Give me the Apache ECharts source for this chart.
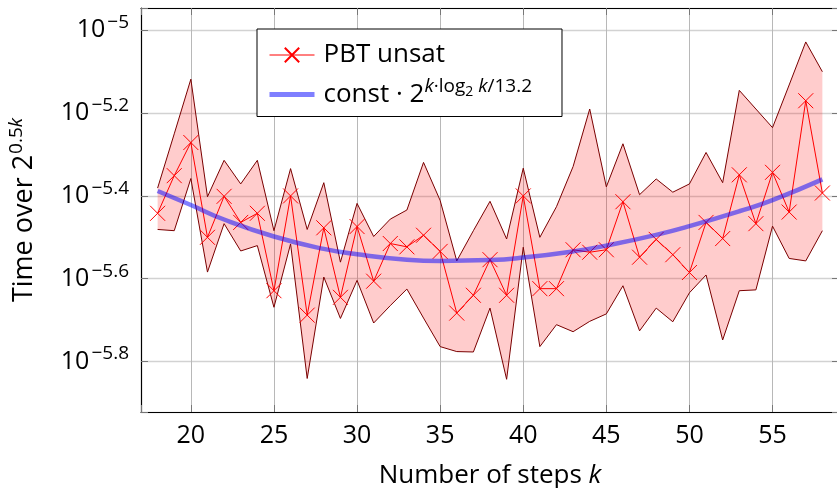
<!DOCTYPE html>
<html lang="en">
<head>
<meta charset="utf-8">
<title>PBT unsat</title>
<script src="https://cdn.jsdelivr.net/npm/echarts@6/dist/echarts.min.js"></script>
<style>
  html, body { margin: 0; padding: 0; background: #fff; }
  #main { width: 837px; height: 488px; }
</style>
</head>
<body>
<div id="main"></div>
<script>
// number of steps k
var steps = [18, 19, 20, 21, 22, 23, 24, 25, 26, 27, 28, 29, 30, 31, 32, 33, 34, 35, 36, 37, 38,
             39, 40, 41, 42, 43, 44, 45, 46, 47, 48, 49, 50, 51, 52, 53, 54, 55, 56, 57, 58];
// log10 of time over 2^(0.5k): mean, upper and lower edge of the band
var timeMean = [-5.442, -5.351, -5.271, -5.500, -5.401, -5.464, -5.442, -5.629, -5.400, -5.688, -5.477,
                -5.645, -5.474, -5.606, -5.515, -5.523, -5.495, -5.534, -5.683, -5.640, -5.554,
                -5.640, -5.400, -5.624, -5.624, -5.530, -5.536, -5.530, -5.414, -5.548, -5.505,
                -5.542, -5.585, -5.464, -5.503, -5.349, -5.467, -5.343, -5.439, -5.170, -5.393];
var timeUpper = [-5.381, -5.250, -5.118, -5.402, -5.314, -5.371, -5.314, -5.484, -5.334, -5.481, -5.368,
                 -5.560, -5.418, -5.498, -5.456, -5.434, -5.319, -5.411, -5.557, -5.484, -5.413,
                 -5.504, -5.333, -5.500, -5.426, -5.329, -5.190, -5.378, -5.274, -5.397, -5.359,
                 -5.391, -5.371, -5.295, -5.368, -5.145, -5.190, -5.235, -5.132, -5.028, -5.100];
var timeLower = [-5.481, -5.484, -5.358, -5.584, -5.467, -5.533, -5.520, -5.669, -5.516, -5.841, -5.596,
                 -5.696, -5.604, -5.707, -5.665, -5.625, -5.695, -5.764, -5.776, -5.777, -5.671,
                 -5.843, -5.524, -5.764, -5.711, -5.728, -5.703, -5.685, -5.617, -5.726, -5.671,
                 -5.704, -5.634, -5.591, -5.748, -5.629, -5.627, -5.473, -5.551, -5.557, -5.484];
// fitted curve
var fitSteps = [18, 20, 22, 25, 28, 30, 33, 35, 38, 40, 43, 45, 48, 50, 53, 55, 58];
var fitValues = [-5.388, -5.422, -5.457, -5.498, -5.528, -5.541, -5.554, -5.557, -5.555, -5.549,
                 -5.534, -5.520, -5.494, -5.473, -5.437, -5.410, -5.360];
// tick labels
var xTicks = [20, 25, 30, 35, 40, 45, 50, 55];
var yTicks = [-5.8, -5.6, -5.4, -5.2, -5];
var yTickLabels = ['\u22125.8', '\u22125.6', '\u22125.4', '\u22125.2', '\u22125'];

var FONT = '"Open Sans", "DejaVu Sans", sans-serif';
var fitName = 'const fit';

function zip(xs, ys) {
    var out = [];
    for (var i = 0; i < xs.length; i++) out.push([xs[i], ys[i]]);
    return out;
}
var bandData = [];
for (var i = 0; i < steps.length; i++) bandData.push([steps[i], timeLower[i], timeUpper[i]]);

var myChart = echarts.init(document.getElementById('main'));

// the shaded band between lower and upper, drawn once as a polygon
function renderBand(params, api) {
    if (params.dataIndexInside !== 0) return null;
    var up = [], low = [];
    for (var i = 0; i < bandData.length; i++) {
        var k = api.value(0, i);
        low.push(api.coord([k, api.value(1, i)]));
        up.push(api.coord([k, api.value(2, i)]));
    }
    var poly = up.concat(low.slice().reverse());
    return {
        type: 'group',
        children: [
            { type: 'polygon', shape: { points: poly }, style: { fill: 'rgba(255,0,0,0.2)' } },
            { type: 'polyline', shape: { points: up }, style: { stroke: '#7a0000', lineWidth: 1, fill: null } },
            { type: 'polyline', shape: { points: low }, style: { stroke: '#7a0000', lineWidth: 1, fill: null } }
        ]
    };
}

var option = {
    animation: false,
    backgroundColor: '#fff',
    grid: { left: 141, right: -2, top: 8, bottom: 76, containLabel: false, outerBoundsMode: 'none' },
    legend: {
        orient: 'vertical',
        left: 257,
        top: 29,
        data: [
            { name: 'PBT unsat', lineStyle: { width: 1 } },
            { name: fitName, itemStyle: { color: 'rgba(0,0,0,0)', borderWidth: 0 }, lineStyle: { width: 5 } }
        ],
        backgroundColor: '#fff',
        borderColor: '#000',
        borderWidth: 1,
        borderRadius: 0,
        padding: [13, 30, 9, 10],
        itemGap: 9,
        itemWidth: 45,
        itemHeight: 18,
        selectedMode: false,
        formatter: function (name) {
            if (name === fitName) {
                return '{b|const \u00b7 2}{si|k}{s|\u00b7log}{ss|2}{si| k}{s|/13.2}';
            }
            return '{b|PBT unsat}';
        },
        textStyle: {
            rich: {
                b: { fontFamily: FONT, fontSize: 26, color: '#000', padding: [0, 0, 0, 4] },
                s: { fontFamily: FONT, fontSize: 19, color: '#000', padding: [0, 0, 16, 0] },
                si: { fontFamily: FONT, fontSize: 19, fontStyle: 'italic', color: '#000', padding: [0, 0, 16, 0] },
                ss: { fontFamily: FONT, fontSize: 14, color: '#000', padding: [0, 0, 4, 0] }
            }
        }
    },
    xAxis: [{
        type: 'value',
        min: 17,
        max: 59,
        splitNumber: 8,
        name: '{a|Number of steps }{i|k}',
        nameLocation: 'middle',
        nameGap: 51,
        nameTextStyle: {
            rich: {
                a: { fontFamily: FONT, fontSize: 26, color: '#000' },
                i: { fontFamily: FONT, fontSize: 26, fontStyle: 'italic', color: '#000' }
            }
        },
        axisLine: { onZero: false, lineStyle: { color: '#000', width: 1.2 } },
        axisTick: { inside: true, length: 7, lineStyle: { color: '#777' } },
        axisLabel: {
            margin: 11,
            fontFamily: FONT,
            fontSize: 25,
            color: '#000',
            formatter: function (v) {
                return xTicks.indexOf(Math.round(v * 1000) / 1000) >= 0 ? String(v) : '';
            }
        },
        splitLine: { show: true, lineStyle: { color: '#b8b8b8', width: 1 } }
    }, {
        type: 'value',
        position: 'top',
        min: 17,
        max: 59,
        splitNumber: 8,
        axisLine: { onZero: false, lineStyle: { color: '#000', width: 1.2 } },
        axisTick: { inside: true, length: 7, lineStyle: { color: '#777' } },
        axisLabel: { show: false },
        splitLine: { show: false }
    }],
    yAxis: [{
        type: 'value',
        min: -5.922,
        max: -4.946,
        name: '{b|Time over 2}{s|0.5}{si|k}',
        nameLocation: 'middle',
        nameRotate: 90,
        nameGap: 100,
        nameTextStyle: {
            rich: {
                b: { fontFamily: FONT, fontSize: 27, color: '#000' },
                s: { fontFamily: FONT, fontSize: 19, color: '#000', padding: [0, 0, 15, 1] },
                si: { fontFamily: FONT, fontSize: 19, fontStyle: 'italic', color: '#000', padding: [0, 0, 15, 0] }
            }
        },
        axisLine: { show: true, onZero: false, lineStyle: { color: '#000', width: 1.2 } },
        axisTick: { inside: true, length: 7, lineStyle: { color: '#777' } },
        axisLabel: {
            margin: 12,
            rich: {
                b: { fontFamily: FONT, fontSize: 25, color: '#000' },
                e: { fontFamily: FONT, fontSize: 19, color: '#000', padding: [0, 0, 15, 2] }
            },
            formatter: function (v) {
                for (var i = 0; i < yTicks.length; i++) {
                    if (Math.abs(yTicks[i] - v) < 1e-6) return '{b|10}{e|' + yTickLabels[i] + '}';
                }
                return '';
            }
        },
        splitLine: { show: true, lineStyle: { color: '#d2d2d2', width: 1.3 } }
    }, {
        type: 'value',
        position: 'right',
        min: -5.922,
        max: -4.946,
        axisLine: { show: true, onZero: false, lineStyle: { color: '#000', width: 1.2 } },
        axisTick: { show: true, inside: true, length: 7, lineStyle: { color: '#777' } },
        axisLabel: { show: false },
        splitLine: { show: false }
    }],
    series: [{
        name: 'band',
        type: 'custom',
        data: bandData,
        encode: { x: 0, y: [1, 2] },
        renderItem: renderBand,
        silent: true,
        z: 2
    }, {
        name: 'PBT unsat',
        type: 'line',
        data: zip(steps, timeMean),
        color: '#ff0000',
        lineStyle: { color: '#ff0000', width: 1 },
        symbol: 'path://M0,0L10,10M10,0L0,10',
        symbolSize: 15,
        itemStyle: { color: '#ff0000', borderColor: '#ff0000', borderWidth: 1 },
        z: 3
    }, {
        name: fitName,
        type: 'line',
        data: zip(fitSteps, fitValues),
        smooth: true,
        symbol: 'none',
        color: 'rgba(0,0,255,0.5)',
        lineStyle: { color: 'rgba(0,0,255,0.5)', width: 4.5 },
        z: 4
    }]
};

myChart.setOption(option);
</script>
</body>
</html>
